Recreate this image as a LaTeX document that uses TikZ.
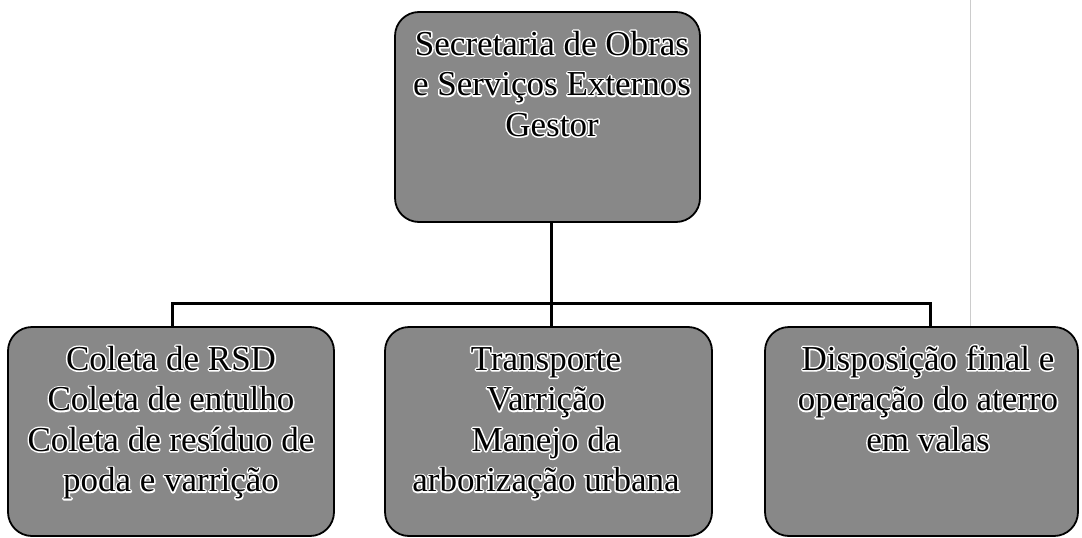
\documentclass[tikz,border=0pt]{standalone}
\usepackage{fontspec}
\setmainfont{Liberation Serif}
\definecolor{boxgray}{RGB}{136,136,136}
\newcommand{\outl}[1]{\strut\makebox[0pt][l]{\special{pdf:literal direct 1 G 3 w 1 j 1 J 1 Tr}#1\special{pdf:literal direct 0 Tr 0 G 0 j 0 J}}#1}
\begin{document}
\begin{tikzpicture}[x=1pt,y=-1pt,
  box/.style={draw=black, line width=1.8pt, fill=boxgray, rounded corners=24pt, inner sep=0pt},
  txt/.style={anchor=north, align=center, inner sep=0pt, text=black, font=\fontsize{35}{40.5}\selectfont},
  conn/.style={draw=black, line width=3pt, line join=miter}]
\useasboundingbox (0,0) rectangle (1082,538);
\draw[gray!40, line width=0.8pt] (970,0) -- (970,330);
% boxes
\node[box, minimum width=305pt, minimum height=210pt] (top) at (547.5,117) {};
\node[box, minimum width=326pt, minimum height=209pt] (left) at (171,431.5) {};
\node[box, minimum width=327pt, minimum height=209pt] (mid) at (548.5,431.5) {};
\node[box, minimum width=313pt, minimum height=209pt] (right) at (921.5,431.5) {};
% texts
\node[txt] (toptext) at (552,26.6) {\outl{Secretaria de Obras}\\\outl{e Serviços Externos}\\\outl{Gestor}};
\node[txt] (lefttext) at (171,341.6) {\outl{Coleta de RSD}\\\outl{Coleta de entulho}\\\outl{Coleta de resíduo de}\\\outl{poda e varrição}};
\node[txt] (midtext) at (546,341.6) {\outl{Transporte}\\\outl{Varrição}\\\outl{Manejo da}\\\outl{arborização urbana}};
\node[txt] (righttext) at (928,341.6) {\outl{Disposição final e}\\\outl{operação do aterro}\\\outl{em valas}};
% connectors
\coordinate (bus) at (551,303);
\draw[conn] ([xshift=3.5pt]top.south) -- ([xshift=3.5pt]top.south |- bus);
\draw[conn] ([xshift=1pt]left.north) -- ([xshift=1pt]left.north |- bus) -- ([xshift=8.5pt]right.north |- bus) -- ([xshift=8.5pt]right.north);
\draw[conn] ([xshift=2.5pt]mid.north) -- ([xshift=2.5pt]mid.north |- bus);
\end{tikzpicture}
\end{document}
